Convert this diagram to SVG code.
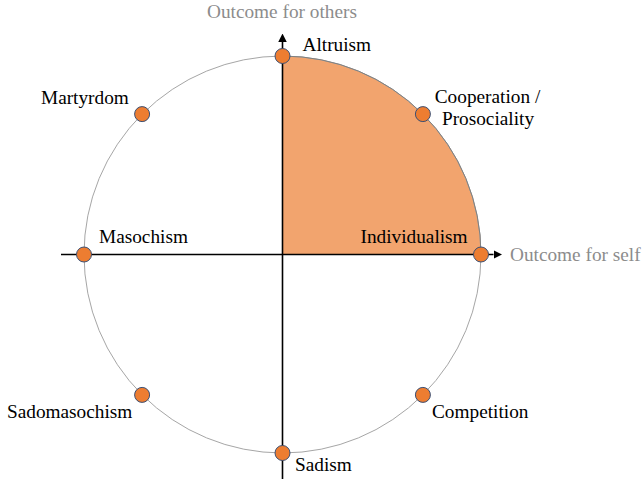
<svg xmlns="http://www.w3.org/2000/svg" width="642" height="479" viewBox="0 0 642 479">
<style>
text{font-family:"Liberation Serif","Times New Roman",serif;font-size:19.3px;fill:#000}
.ax{fill:#8c8c8c}
.dot{fill:#ED7D31;stroke:#3B4F73;stroke-width:1}
.axis{stroke:#000;stroke-width:1.6;fill:none}
</style>
<defs>
<marker id="arr" viewBox="0 0 10 10" refX="0" refY="5" markerWidth="5.3" markerHeight="5.3" orient="auto" markerUnits="strokeWidth">
<path d="M0,0 L10,5 L0,10 Z" fill="#000"/>
</marker>
</defs>
<rect width="642" height="479" fill="#fff"/>
<g id="quadrant">
<path d="M282.5,254.5 L282.5,56 A198.5,198.5 0 0 1 481,254.5 Z" fill="#F2A46E"/>
</g>
<g id="circle">
<circle cx="282.5" cy="254.5" r="198.5" fill="none" stroke="#A6A6A6" stroke-width="1"/>
<path d="M282.5,56 A198.5,198.5 0 0 1 481,254.5" fill="none" stroke="#808080" stroke-width="1"/>
</g>
<g id="connectors">
<line class="axis" x1="61" y1="254.5" x2="493.5" y2="254.5" marker-end="url(#arr)"/>
<line class="axis" x1="282.5" y1="479" x2="282.5" y2="42" marker-end="url(#arr)"/>
</g>
<g id="axis-labels">
<text class="ax" x="207" y="18">Outcome for others</text>
<text class="ax" x="510" y="261">Outcome for self</text>
</g>
<g id="altruism"><circle class="dot" cx="282.5" cy="56" r="7.5"/><text x="302.5" y="51">Altruism</text></g>
<g id="cooperation"><circle class="dot" cx="422.9" cy="114.1" r="7.5"/><text x="487.5" y="102.5" text-anchor="middle">Cooperation /</text><text x="488" y="125" text-anchor="middle">Prosociality</text></g>
<g id="individualism"><circle class="dot" cx="481" cy="254.5" r="7.5"/><text x="360.5" y="242.5">Individualism</text></g>
<g id="competition"><circle class="dot" cx="422.9" cy="394.9" r="7.5"/><text x="432" y="418">Competition</text></g>
<g id="sadism"><circle class="dot" cx="282.5" cy="453" r="7.5"/><text x="295" y="471">Sadism</text></g>
<g id="sadomasochism"><circle class="dot" cx="142.1" cy="394.9" r="7.5"/><text x="7" y="418">Sadomasochism</text></g>
<g id="masochism"><circle class="dot" cx="84" cy="254.5" r="7.5"/><text x="99" y="242.5">Masochism</text></g>
<g id="martyrdom"><circle class="dot" cx="142.1" cy="114.1" r="7.5"/><text x="41" y="104">Martyrdom</text></g>
</svg>
